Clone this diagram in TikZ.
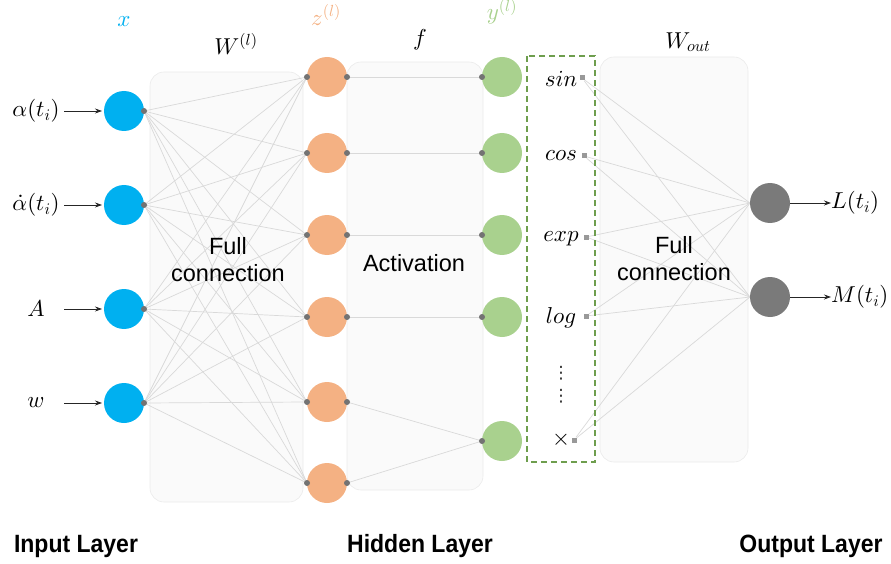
\documentclass[tikz,border=0pt]{standalone}
\usepackage{fontspec}
\setsansfont{Liberation Sans}
\newfontfamily\layerfont[FakeStretch=0.92]{Liberation Sans Bold}
\newfontfamily\symfont{DejaVu Sans}
\usetikzlibrary{arrows.meta}
% scalable Computer Modern math fonts
\DeclareFontFamily{OML}{cmm}{\skewchar\font'177}
\DeclareFontShape{OML}{cmm}{m}{it}{<->cmmi10}{}
\DeclareFontShape{OML}{cmm}{b}{it}{<->cmmib10}{}
\DeclareFontFamily{OMS}{cmsy}{\skewchar\font'60}
\DeclareFontShape{OMS}{cmsy}{m}{n}{<->cmsy10}{}
\DeclareFontFamily{OT1}{cmr}{\hyphenchar\font45}
\DeclareFontShape{OT1}{cmr}{m}{n}{<->cmr10}{}
\definecolor{inblue}{HTML}{00B0F0}
\definecolor{hidorange}{HTML}{F4B183}
\definecolor{actgreen}{HTML}{A9D18E}
\definecolor{outgray}{HTML}{7A7A7A}
\definecolor{dashgreen}{HTML}{6E9E4E}
\pgfdeclarelayer{background}
\pgfsetlayers{background,main}
\tikzset{
  panel/.style={draw=black!8, fill=black!2, line width=0.6pt, rounded corners=14pt},
  neuron/.style={circle, minimum size=40pt, inner sep=0pt, outer sep=0pt},
  port/.style={circle, fill=black!55, minimum size=6pt, inner sep=0pt},
  fport/.style={rectangle, fill=black!40, minimum size=5pt, inner sep=0pt},
  link/.style={draw=black!15, line width=0.7pt},
  feed/.style={draw=black!85, line width=0.8pt, -{Stealth[length=7pt,width=5pt]}},
  mlabel/.style={font=\fontsize{23}{27}\selectfont, inner sep=0pt},
  inlabel/.style={mlabel, minimum width=56pt},
  dotlabel/.style={font=\symfont\fontsize{17}{20}\selectfont, inner sep=0pt, text=black!85},
  caption/.style={font=\sffamily\fontsize{23.5}{27}\selectfont, align=center},
  layer/.style={font=\layerfont\fontsize{25}{28}\selectfont},
  dashbox/.style={draw=dashgreen, line width=1.8pt, dash pattern=on 6pt off 4pt},
}
\begin{document}
\begin{tikzpicture}[x=1pt,y=-1pt]
\useasboundingbox (0,0) rectangle (891,564);

% neurons of the three layers
\foreach \i/\y in {1/111,2/205,3/309,4/403}
  \node[neuron, fill=inblue] (x\i) at (124,\y) {};
\foreach \i/\y in {1/77,2/153,3/235,4/317,5/402,6/483}
  \node[neuron, fill=hidorange] (z\i) at (327,\y) {};
\foreach \i/\y in {1/77,2/153,3/235,4/317,5/441}
  \node[neuron, fill=actgreen] (y\i) at (502,\y) {};
\node[neuron, fill=outgray] (o1) at (770,203) {};
\node[neuron, fill=outgray] (o2) at (770,297) {};

% basis functions
\node[mlabel] (fsin) at (561,79) {$sin$};
\node[mlabel] (fcos) at (561,156) {$cos$};
\node[mlabel] (fexp) at (561,239) {$exp$};
\node[mlabel] (flog) at (561,318) {$log$};
\node[dotlabel] (fdotsa) at (561,373) {⋮};
\node[dotlabel] (fdotsb) at (561,396) {⋮};
\node[mlabel] (ftimes) at (561,440) {$\times$};
\node[fport] (psin) at (582,78) {};
\node[fport] (pcos) at (584,156) {};
\node[fport] (pexp) at (586,237) {};
\node[fport] (plog) at (586,316) {};
\node[fport] (ptimes) at (574,440) {};

\begin{pgfonlayer}{background}
  \path[panel] (150,72) rectangle (303,502);
  \path[panel] (347,62) rectangle (483,490);
  \path[panel] (600,57) rectangle (748,462);
  % full connection, input to hidden
  \foreach \i in {1,...,4}
    \foreach \j in {1,...,6}
      \draw[link] (x\i.east) -- (z\j.west);
  % activation
  \foreach \i in {1,...,4}
    \draw[link] (z\i.east) -- (y\i.west);
  \draw[link] (z5.east) -- (y5.west);
  \draw[link] (z6.east) -- (y5.west);
  % full connection, functions to output
  \foreach \p in {psin,pcos,pexp,plog,ptimes}
    \foreach \o in {o1,o2}
      \draw[link] (\p) -- (\o.west);
\end{pgfonlayer}

\draw[dashbox] (527,56) rectangle (595,462);

% connection ports
\foreach \i in {1,...,4}
  \node[port] (px\i) at (x\i.east) {};
\foreach \i in {1,...,6} {
  \node[port] (pzl\i) at (z\i.west) {};
  \node[port] (pzr\i) at (z\i.east) {};
}
\foreach \i in {1,...,5}
  \node[port] (py\i) at (y\i.west) {};

% inputs
\node[inlabel] (a1) at (36,111) {$\alpha(t_i)$};
\node[inlabel] (a2) at (36,205) {$\dot\alpha(t_i)$};
\node[inlabel] (a3) at (36,309) {$A$};
\node[inlabel] (a4) at (36,403) {$w$};
\foreach \i in {1,...,4}
  \draw[feed, shorten >=2pt] (a\i.east) -- (x\i.west);

% outputs
\node[mlabel, anchor=west] (lL) at (831,203) {$L(t_i)$};
\node[mlabel, anchor=west] (lM) at (831,297) {$M(t_i)$};
\draw[feed] (o1.east) -- (lL.west);
\draw[feed] (o2.east) -- (lM.west);

% headings
\node[mlabel, text=inblue] (hx) at (124,22) {$x$};
\node[mlabel] (hW) at (236,44) {$W^{(l)}$};
\node[mlabel, text=hidorange] (hz) at (326,15) {$z^{(l)}$};
\node[mlabel] (hf) at (420,40) {$f$};
\node[mlabel, text=actgreen] (hy) at (502,12) {$y^{(l)}$};
\node[mlabel] (hWo) at (688,42) {$W_{out}$};

% panel captions
\node[caption] (c1) at (228,260) {Full\\connection};
\node[caption] (c2) at (414,263) {Activation};
\node[caption] (c3) at (674,259) {Full\\connection};

% layer names
\node[layer] (l1) at (76,546) {Input Layer};
\node[layer] (l2) at (420,546) {Hidden Layer};
\node[layer] (l3) at (811,546) {Output Layer};
\end{tikzpicture}
\end{document}
